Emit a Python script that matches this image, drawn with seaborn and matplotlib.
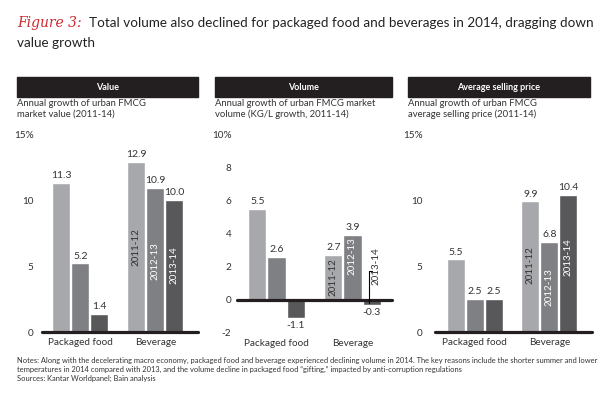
import numpy as np
import pandas as pd
import matplotlib
matplotlib.use("Agg")
import matplotlib.pyplot as plt
import seaborn as sns
from matplotlib.patches import Rectangle

# data
categories = ["Packaged food", "Beverage"]
periods = ["2011-12", "2012-13", "2013-14"]

value_packaged = [11.3, 5.2, 1.4]
value_beverage = [12.9, 10.9, 10.0]
volume_packaged = [5.5, 2.6, -1.1]
volume_beverage = [2.7, 3.9, -0.3]
asp_packaged = [5.5, 2.5, 2.5]
asp_beverage = [9.9, 6.8, 10.4]

headers = ["Value", "Volume", "Average selling price"]
subtitles = ["Annual growth of urban FMCG\nmarket value (2011-14)",
             "Annual growth of urban FMCG market\nvolume (KG/L growth, 2011-14)",
             "Annual growth of urban FMCG\naverage selling price (2011-14)"]
value_ticks = [0, 5, 10, 15]
value_ticklabels = ["0", "5", "10", "15%"]
volume_ticks = [-2, 0, 2, 4, 6, 8, 10]
volume_ticklabels = ["-2", "0", "2", "4", "6", "8", "10%"]

colors = ["#a7a8ab", "#7f8083", "#58585b"]
dark = "#231f20"
text_col = "#333333"

W, H = 604, 397


def make_df(packaged, beverage):
    rows = []
    for cat, vals in zip(categories, [packaged, beverage]):
        for p, v in zip(periods, vals):
            rows.append({"category": cat, "period": p, "value": v})
    return pd.DataFrame(rows)


def fx(px):
    return px / W


def fy(py):
    return 1 - py / H


sns.set_style("white")
plt.rcParams["font.family"] = ["Lato", "DejaVu Sans"]

fig = plt.figure(figsize=(W / 100, H / 100), dpi=100)

# title
fig.text(fx(17), fy(23), "Figure 3:", color="#cc2a2e", fontsize=10,
         style="italic", family=["DejaVu Serif"], va="center")
fig.text(fx(89), fy(23), "Total volume also declined for packaged food and beverages in 2014, dragging down",
         color="#222222", fontsize=9.7, va="center")
fig.text(fx(17), fy(43), "value growth", color="#222222", fontsize=9.7, va="center")

# panel layout in pixels: axes left/right/top/bottom, header left/right, ylim, xlim
panels = [
    dict(df=make_df(value_packaged, value_beverage), ax=(42, 198, 134, 332), hdr=(17, 198),
         ylim=(0, 15), xlim=(-0.51, 1.57), ticks=value_ticks, tl=value_ticklabels, pad=6,
         inside=[6.4, 5.4, 5.1]),
    dict(df=make_df(volume_packaged, volume_beverage), ax=(237, 392, 134, 333), hdr=(215, 392),
         ylim=(-2, 10), xlim=(-0.52, 1.52), ticks=volume_ticks, tl=volume_ticklabels, pad=4,
         inside=[1.35, 2.65, None]),
    dict(df=make_df(asp_packaged, asp_beverage), ax=(435, 592, 134, 332), hdr=(408, 590),
         ylim=(0, 15), xlim=(-0.53, 1.57), ticks=value_ticks, tl=value_ticklabels, pad=9,
         inside=[5.1, 3.4, 5.7]),
]

for i, p in enumerate(panels):
    l, r, t, b = p["ax"]
    ax = fig.add_axes([fx(l), fy(b), fx(r) - fx(l), fy(t) - fy(b)])
    sns.barplot(data=p["df"], x="category", y="value", hue="period", order=categories,
                hue_order=periods, palette=colors, saturation=1, width=0.76, gap=0.05,
                legend=False, ax=ax, zorder=2)
    ax.set_ylim(*p["ylim"])
    ax.set_xlim(*p["xlim"])
    ax.set_yticks(p["ticks"])
    ax.set_yticklabels(p["tl"])
    ax.set_xlabel("")
    ax.set_ylabel("")
    ax.tick_params(axis="both", length=0, labelsize=7.2, colors=text_col)
    ax.tick_params(axis="y", pad=p["pad"])
    ax.tick_params(axis="x", pad=4)
    for s in ax.spines.values():
        s.set_visible(False)
    ax.axhline(0, color=dark, lw=2.3, zorder=4, clip_on=False)

    for cont in ax.containers:
        ax.bar_label(cont, fmt="%.1f", padding=2, fontsize=7.5, color=text_col)

    # period labels inside the beverage bars
    for j, cont in enumerate(ax.containers):
        bar = cont.patches[1]
        xc = bar.get_x() + bar.get_width() / 2
        ypos = p["inside"][j]
        tc = text_col if j == 0 else "white"
        if ypos is not None:
            ax.text(xc, ypos, periods[j], rotation=90, ha="center", va="center",
                    fontsize=7, color=tc, zorder=5)
        else:
            # 2013-14 volume label sits outside with a bracket
            xl = xc - 0.04
            ax.plot([xl, xl], [-0.2, 1.75], color="black", lw=0.8, zorder=5)
            ax.plot([xl, xl + 0.05], [1.75, 1.75], color="black", lw=0.8, zorder=5)
            ax.text(xc + 0.05, 2.05, periods[j], rotation=90, ha="center", va="center",
                    fontsize=7, color=text_col, zorder=5)

    # header bar and subtitle
    hl, hr = p["hdr"]
    fig.patches.append(Rectangle((fx(hl), fy(97)), fx(hr) - fx(hl), fy(77) - fy(97),
                                 transform=fig.transFigure, color=dark))
    fig.text(fx((hl + hr) / 2), fy(87), headers[i], color="white", fontsize=6.5,
             fontweight="bold", ha="center", va="center")
    fig.text(fx(hl), fy(109), subtitles[i], color=text_col, fontsize=6.8,
             ha="left", va="center", linespacing=1.2)

notes = ("Notes: Along with the decelerating macro economy, packaged food and beverage experienced declining volume in 2014. "
         "The key reasons include the shorter summer and lower\n"
         "temperatures in 2014 compared with 2013, and the volume decline in packaged food \u201cgifting,\u201d "
         "impacted by anti-corruption regulations\n"
         "Sources: Kantar Worldpanel; Bain analysis")
fig.text(fx(17), fy(357), notes, color=text_col, fontsize=5.4, ha="left", va="top", linespacing=1.3)

fig.savefig("out.png", dpi=100)
